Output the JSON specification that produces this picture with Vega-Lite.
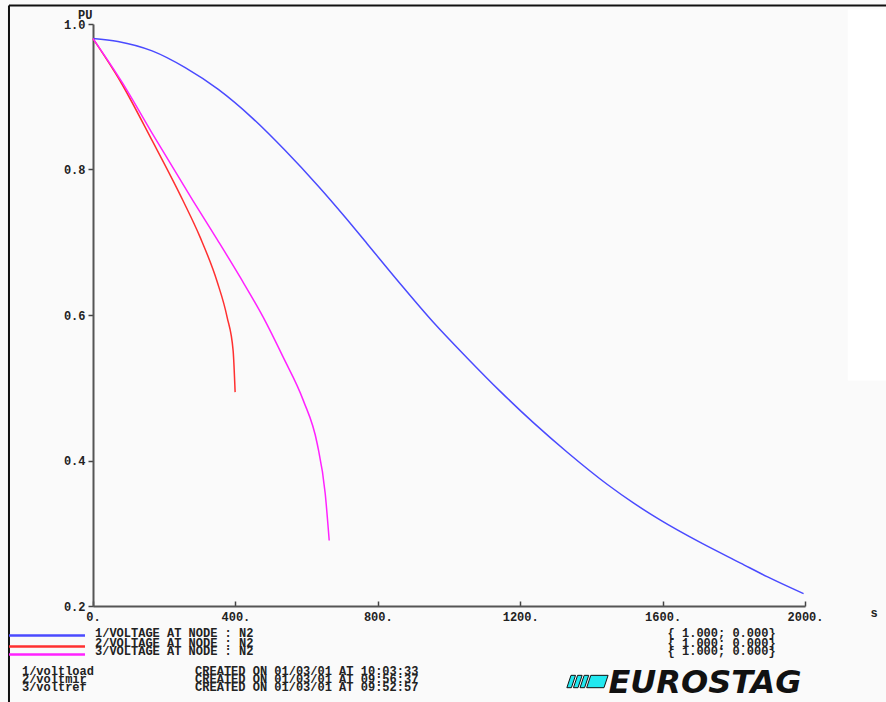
{
  "$schema": "https://vega.github.io/schema/vega-lite/v6.json",
  "autosize": {"type": "none"},
  "width": 712,
  "height": 582,
  "padding": {"left": 93, "top": 24, "right": 81, "bottom": 96},
  "background": "#fafafa",
  "config": {"view": {"stroke": null}},
  "datasets": {
    "curves": [
      {"t": 0, "v": 0.980, "s": "1"}, {"t": 70, "v": 0.976, "s": "1"}, {"t": 166, "v": 0.963, "s": "1"},
      {"t": 259, "v": 0.940, "s": "1"}, {"t": 352, "v": 0.910, "s": "1"}, {"t": 447, "v": 0.871, "s": "1"},
      {"t": 540, "v": 0.826, "s": "1"}, {"t": 633, "v": 0.777, "s": "1"}, {"t": 709, "v": 0.734, "s": "1"},
      {"t": 770, "v": 0.698, "s": "1"}, {"t": 863, "v": 0.643, "s": "1"}, {"t": 956, "v": 0.590, "s": "1"},
      {"t": 1051, "v": 0.541, "s": "1"}, {"t": 1144, "v": 0.495, "s": "1"}, {"t": 1237, "v": 0.452, "s": "1"},
      {"t": 1333, "v": 0.411, "s": "1"}, {"t": 1445, "v": 0.367, "s": "1"}, {"t": 1520, "v": 0.341, "s": "1"},
      {"t": 1594, "v": 0.318, "s": "1"}, {"t": 1707, "v": 0.287, "s": "1"}, {"t": 1819, "v": 0.259, "s": "1"},
      {"t": 1895, "v": 0.240, "s": "1"}, {"t": 1996, "v": 0.217, "s": "1"},
      {"t": 0, "v": 0.980, "s": "2"}, {"t": 75.9, "v": 0.922, "s": "2"}, {"t": 165.9, "v": 0.840, "s": "2"},
      {"t": 253, "v": 0.757, "s": "2"}, {"t": 300.8, "v": 0.707, "s": "2"}, {"t": 348.6, "v": 0.646, "s": "2"},
      {"t": 376.7, "v": 0.597, "s": "2"}, {"t": 393.6, "v": 0.551, "s": "2"}, {"t": 399.2, "v": 0.494, "s": "2"},
      {"t": 0, "v": 0.980, "s": "3"}, {"t": 81.5, "v": 0.920, "s": "3"}, {"t": 165.9, "v": 0.850, "s": "3"},
      {"t": 281.1, "v": 0.757, "s": "3"}, {"t": 348.6, "v": 0.704, "s": "3"}, {"t": 413.3, "v": 0.652, "s": "3"},
      {"t": 478, "v": 0.597, "s": "3"}, {"t": 534.2, "v": 0.542, "s": "3"}, {"t": 590.4, "v": 0.483, "s": "3"},
      {"t": 629.8, "v": 0.423, "s": "3"}, {"t": 652.2, "v": 0.355, "s": "3"}, {"t": 663.5, "v": 0.290, "s": "3"}
    ],
    "legendLines": [
      {"t": -236, "t2": -22.5, "v": 0.1595, "s": "1"},
      {"t": -236, "t2": -22.5, "v": 0.1444, "s": "2"},
      {"t": -236, "t2": -22.5, "v": 0.1334, "s": "3"}
    ],
    "frame": [
      {"t": -236, "t2": 2229, "v": 1.0254, "v2": 1.0254},
      {"t": -236, "t2": -236, "v": 1.0254, "v2": 0.067}
    ],
    "patch": [{"t": 2120, "t2": 2229, "v": 1.02, "v2": 0.51}],
    "texts": [
      {"t": 5.6, "v": 0.1622, "label": "1/VOLTAGE AT NODE : N2"},
      {"t": 5.6, "v": 0.1498, "label": "2/VOLTAGE AT NODE : N2"},
      {"t": 5.6, "v": 0.1375, "label": "3/VOLTAGE AT NODE : N2"},
      {"t": 1614, "v": 0.1622, "label": "{ 1.000;  0.000}"},
      {"t": 1614, "v": 0.1498, "label": "{ 1.000;  0.000}"},
      {"t": 1614, "v": 0.1375, "label": "{ 1.000;  0.000}"},
      {"t": -199.6, "v": 0.1104, "label": "1/voltload"},
      {"t": -199.6, "v": 0.0990, "label": "2/voltmir"},
      {"t": -199.6, "v": 0.0880, "label": "3/voltref"},
      {"t": 286.8, "v": 0.1104, "label": "CREATED ON 01/03/01 AT 10:03:33"},
      {"t": 286.8, "v": 0.0990, "label": "CREATED ON 01/03/01 AT 09:56:37"},
      {"t": 286.8, "v": 0.0880, "label": "CREATED ON 01/03/01 AT 09:52:57"},
      {"t": -42, "v": 1.0117, "label": "PU"},
      {"t": 2184, "v": 0.1897, "label": "s"}
    ],
    "logo": [{"t": 1389, "v": 0.0962}],
    "logoText": [{"t": 1448, "v": 0.0948, "label": "EUROSTAG"}]
  },
  "layer": [
    {
      "data": {"name": "patch"},
      "mark": {"type": "rect", "fill": "#ffffff", "clip": false},
      "encoding": {
        "x": {"field": "t", "type": "quantitative"},
        "x2": {"field": "t2"},
        "y": {"field": "v", "type": "quantitative"},
        "y2": {"field": "v2"}
      }
    },
    {
      "data": {"name": "frame"},
      "mark": {"type": "rule", "color": "#111111", "strokeWidth": 2, "clip": false},
      "encoding": {
        "x": {"field": "t", "type": "quantitative"},
        "x2": {"field": "t2"},
        "y": {"field": "v", "type": "quantitative"},
        "y2": {"field": "v2"}
      }
    },
    {
      "data": {"name": "curves"},
      "mark": {"type": "line", "strokeWidth": 1.5, "interpolate": "monotone", "clip": false},
      "encoding": {
        "x": {
          "field": "t", "type": "quantitative",
          "scale": {"domain": [0, 2000], "nice": false, "zero": false},
          "axis": {
            "title": null, "values": [0, 400, 800, 1200, 1600, 2000],
            "labelExpr": "datum.value + '.'",
            "labelFont": "Liberation Mono", "labelFontWeight": "bold", "labelFontSize": 12,
            "labelColor": "#222222", "labelPadding": 10, "labelFlush": false,
            "domainColor": "#555555", "domainWidth": 2,
            "tickColor": "#444444", "tickSize": -5, "tickWidth": 1.5, "grid": false
          }
        },
        "y": {
          "field": "v", "type": "quantitative",
          "scale": {"domain": [0.2, 1.0], "nice": false, "zero": false},
          "axis": {
            "title": null, "values": [0.2, 0.4, 0.6, 0.8, 1.0], "format": ".1f",
            "labelFont": "Liberation Mono", "labelFontWeight": "bold", "labelFontSize": 12,
            "labelColor": "#222222", "labelPadding": 3, "labelFlush": false,
            "domainColor": "#555555", "domainWidth": 2,
            "tickColor": "#444444", "tickSize": 5, "tickWidth": 1.5, "grid": false
          }
        },
        "color": {
          "field": "s", "type": "nominal",
          "scale": {"domain": ["1", "2", "3"], "range": ["#4a4aff", "#ff3030", "#ff22ff"]},
          "legend": null
        },
        "order": {"field": "t", "type": "quantitative"}
      }
    },
    {
      "data": {"name": "legendLines"},
      "mark": {"type": "rule", "strokeWidth": 2.5, "clip": false},
      "encoding": {
        "x": {"field": "t", "type": "quantitative"},
        "x2": {"field": "t2"},
        "y": {"field": "v", "type": "quantitative"},
        "color": {
          "field": "s", "type": "nominal",
          "scale": {"domain": ["1", "2", "3"], "range": ["#4a4aff", "#ff3030", "#ff22ff"]},
          "legend": null
        }
      }
    },
    {
      "data": {"name": "texts"},
      "mark": {"type": "text", "align": "left", "baseline": "middle", "font": "Liberation Mono", "fontWeight": "bold", "fontSize": 12, "color": "#222222", "clip": false},
      "encoding": {
        "x": {"field": "t", "type": "quantitative"},
        "y": {"field": "v", "type": "quantitative"},
        "text": {"field": "label"}
      }
    },
    {
      "data": {"name": "logo"},
      "mark": {"type": "point", "shape": "M-1,0.3 L-0.78,0.3 L-0.58,-0.3 L-0.8,-0.3 Z M-0.68,0.3 L-0.46,0.3 L-0.26,-0.3 L-0.48,-0.3 Z M-0.36,0.3 L-0.14,0.3 L0.06,-0.3 L-0.16,-0.3 Z M-0.04,0.3 L0.8,0.3 L1,-0.3 L0.16,-0.3 Z", "size": 1700, "filled": true, "fill": "#22e8f0", "stroke": "#111111", "strokeWidth": 1, "opacity": 1, "clip": false},
      "encoding": {
        "x": {"field": "t", "type": "quantitative"},
        "y": {"field": "v", "type": "quantitative"}
      }
    },
    {
      "data": {"name": "logoText"},
      "mark": {"type": "text", "align": "left", "baseline": "middle", "font": "DejaVu Sans", "fontWeight": "bold", "fontStyle": "italic", "fontSize": 32, "color": "#111111", "clip": false},
      "encoding": {
        "x": {"field": "t", "type": "quantitative"},
        "y": {"field": "v", "type": "quantitative"},
        "text": {"field": "label"}
      }
    }
  ]
}
